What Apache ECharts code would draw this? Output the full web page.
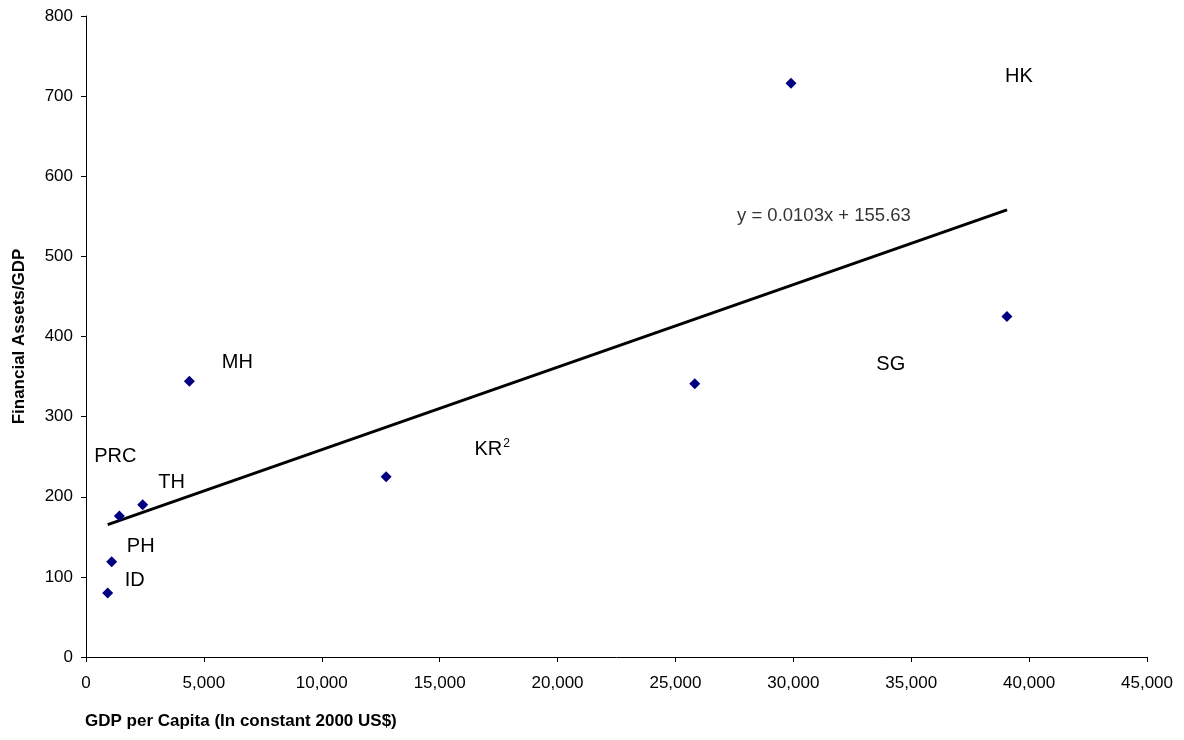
<!DOCTYPE html>
<html>
<head>
<meta charset="utf-8">
<script src="https://cdn.jsdelivr.net/npm/echarts@6.0.0/dist/echarts.min.js"></script>
<style>
  html, body { margin: 0; padding: 0; background: #fff; }
  #chart { width: 1184px; height: 740px; }
</style>
</head>
<body>
<div id="chart"></div>
<script>
// ---- data ----
const countries = ['ID', 'PH', 'PRC', 'TH', 'MH', 'KR²', 'SG', 'HK', 'JP'];
const gdpPerCapita = [920, 1090, 1415, 2405, 4385, 12730, 25820, 29900, 39060];
const assetsToGdp = [80, 119, 176, 190, 344, 225, 341, 716, 425];
const trendSlope = 0.0103;
const trendIntercept = 155.63;
const equationText = 'y = 0.0103x + 155.63';
const xTicks = { min: 0, max: 45000, step: 5000 };
const yTicks = { min: 0, max: 800, step: 100 };

// ---- label placement (pixels, relative to point) ----
const labelOffsets = {
  'ID': [27, -12], 'PH': [29, -15], 'PRC': [-4, -59], 'TH': [29, -22],
  'MH': [48, -19], 'KR²': [106, -27], 'SG': [196, -19], 'HK': [228, -7]
};

const FONT = '"Liberation Sans", Arial, sans-serif';

function labelFormatter(c) {
  if (c === 'KR²') return '{a|KR}{s|2}';
  return '{a|' + c + '}';
}

const scatterData = countries.map((c, i) => {
  const item = { name: c, value: [gdpPerCapita[i], assetsToGdp[i]] };
  if (labelOffsets[c]) {
    item.label = {
      show: true, formatter: labelFormatter(c), position: 'inside', offset: labelOffsets[c],
      rich: {
        a: { color: '#000', fontSize: 20, fontFamily: FONT, lineHeight: 24 },
        s: { color: '#000', fontSize: 12, fontFamily: FONT, lineHeight: 24, verticalAlign: 'top', padding: [0, 0, 0, 1] }
      }
    };
  }
  return item;
});

const xMin = Math.min(...gdpPerCapita), xMax = Math.max(...gdpPerCapita);
const trendData = [
  [xMin, trendSlope * xMin + trendIntercept],
  [xMax, trendSlope * xMax + trendIntercept]
];

const chart = echarts.init(document.getElementById('chart'), null, { renderer: 'canvas' });
chart.setOption({
  animation: false,
  backgroundColor: '#fff',
  textStyle: { fontFamily: FONT },
  title: {
    text: 'GDP per Capita (In constant 2000 US$)',
    left: 80, top: 708,
    textStyle: { fontFamily: FONT, fontSize: 17, fontWeight: 'bold', color: '#000' }
  },
  grid: { left: 86, right: 37, top: 16, bottom: 83 },
  xAxis: {
    type: 'value', min: xTicks.min, max: xTicks.max, interval: xTicks.step,
    axisLine: { show: true, lineStyle: { color: '#000', width: 1 } },
    axisTick: { show: true, length: 5, inside: false, lineStyle: { color: '#000' } },
    splitLine: { show: false },
    axisLabel: {
      color: '#000', fontSize: 17, fontFamily: FONT, margin: 18,
      formatter: v => v.toLocaleString('en-US')
    }
  },
  yAxis: {
    type: 'value', min: yTicks.min, max: yTicks.max, interval: yTicks.step,
    name: 'Financial Assets/GDP', nameLocation: 'middle', nameRotate: 90, nameGap: 58,
    nameTextStyle: { fontFamily: FONT, fontSize: 17, fontWeight: 'bold', color: '#000' },
    axisLine: { show: true, lineStyle: { color: '#000', width: 1 } },
    axisTick: { show: true, length: 5, inside: false, lineStyle: { color: '#000' } },
    splitLine: { show: false },
    axisLabel: { color: '#000', fontSize: 17, fontFamily: FONT, margin: 13 }
  },
  series: [
    {
      type: 'line',
      data: trendData,
      symbol: 'none',
      lineStyle: { color: '#000', width: 3 },
      z: 2,
      silent: true
    },
    {
      type: 'scatter',
      data: [trendData[1]],
      symbol: 'circle',
      symbolSize: 1,
      itemStyle: { color: '#000' },
      label: {
        show: true, formatter: '{e|' + equationText + '}', position: 'inside', offset: [-183, 6],
        rich: { e: { fontSize: 18.5, color: '#000', fontFamily: FONT } }
      },
      z: 1,
      silent: true
    },
    {
      type: 'scatter',
      data: scatterData,
      symbol: 'diamond',
      symbolSize: 11,
      itemStyle: { color: '#000080', opacity: 1 },
      label: { show: false },
      z: 3
    }
  ]
});
</script>
</body>
</html>
